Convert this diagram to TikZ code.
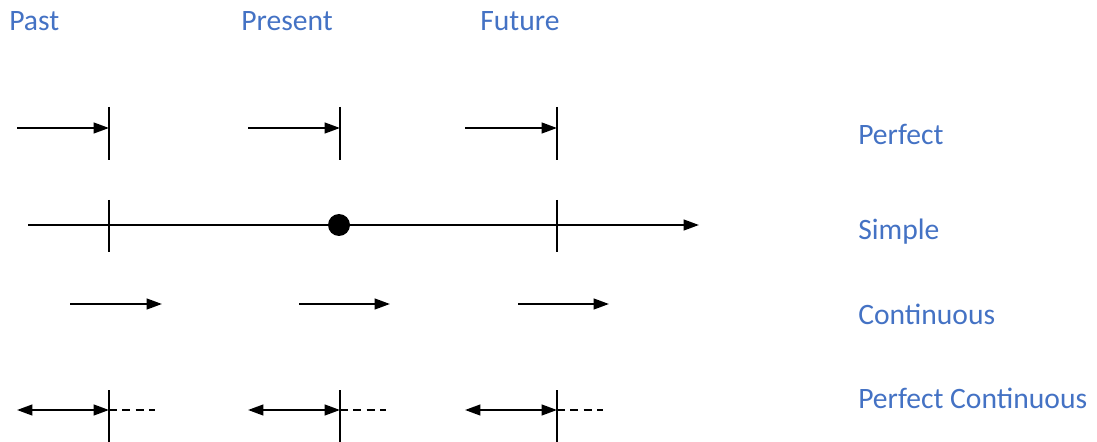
\documentclass[tikz,border=0pt]{standalone}
\usepackage{fontspec}
\setmainfont{Carlito}
\usetikzlibrary{arrows.meta}
\definecolor{lblue}{HTML}{4472C4}
\tikzset{
  lbl/.style={anchor=base west, inner sep=0pt, text=lblue, font=\fontsize{22.2}{26}\selectfont},
  ln/.style={line width=1.6pt},
  arr/.style={ln, -{Triangle[length=11.5pt,width=8pt]}},
  darr/.style={ln, {Triangle[length=11.5pt,width=8pt]}-{Triangle[length=11.5pt,width=8pt]}},
  dsh/.style={ln, dash pattern=on 6pt off 4pt},
  bar/.style={ln},
}
\begin{document}
\begin{tikzpicture}[x=0.75pt,y=-0.75pt]
\useasboundingbox (0,0) rectangle (1097,442);
% headers
\node[lbl] (past) at (9,31) {Past};
\node[lbl] (present) at (241,31) {Present};
\node[lbl] (future) at (480,31) {Future};
% row labels
\node[lbl] (perf) at (858,145) {Perfect};
\node[lbl] (simp) at (858,240) {Simple};
\node[lbl] (cont) at (858,325) {Continuous};
\node[lbl] (pcont) at (858,408) {Perfect Continuous};
% Perfect row
\foreach \s/\e/\n in {17/109/a,248/340/b,465/557/c}{
  \coordinate (p\n s) at (\s,128);
  \coordinate (p\n e) at (\e,128);
  \coordinate (p\n t) at (\e,107);
  \coordinate (p\n b) at (\e,160);
  \draw[bar] (p\n t) -- (p\n b);
  \draw[arr] (p\n s) -- (p\n e);
}
% Simple row
\coordinate (ss) at (28,225);
\coordinate (se) at (699,225);
\draw[arr] (ss) -- (se);
\foreach \x/\n in {109/a,557/b}{
  \coordinate (s\n t) at (\x,200);
  \coordinate (s\n b) at (\x,252);
  \draw[bar] (s\n t) -- (s\n b);
}
\node[circle, fill=black, minimum size=16.5pt, inner sep=0pt] (dot) at (339,225) {};
% Continuous row
\foreach \s/\e/\n in {70/162/a,299/390/b,518/609/c}{
  \coordinate (c\n s) at (\s,304);
  \coordinate (c\n e) at (\e,304);
  \draw[arr] (c\n s) -- (c\n e);
}
% Perfect Continuous row
\foreach \s/\e/\d/\n in {17/109/155/a,248/340/386/b,465/557/603/c}{
  \coordinate (q\n s) at (\s,410);
  \coordinate (q\n e) at (\e,410);
  \coordinate (q\n d) at (\d,410);
  \coordinate (q\n t) at (\e,390);
  \coordinate (q\n b) at (\e,442);
  \draw[bar] (q\n t) -- (q\n b);
  \draw[darr] (q\n s) -- (q\n e);
  \draw[dsh] (q\n e) -- (q\n d);
}
\end{tikzpicture}
\end{document}
